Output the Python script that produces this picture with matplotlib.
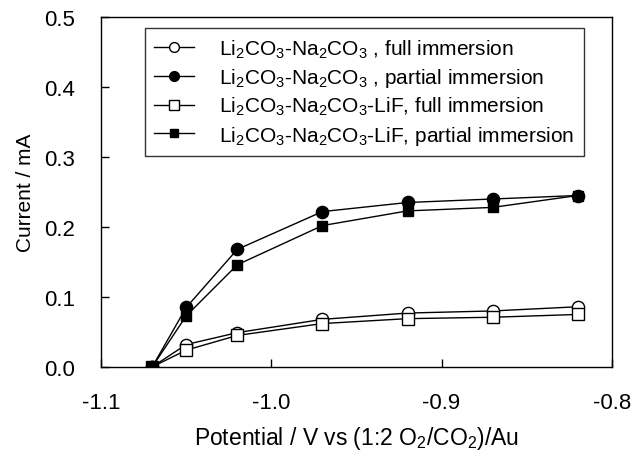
import matplotlib
matplotlib.use('Agg')
import matplotlib.pyplot as plt

plt.rcParams['font.family'] = ['Liberation Sans', 'DejaVu Sans']
plt.rcParams['mathtext.fontset'] = 'custom'
plt.rcParams['mathtext.rm'] = 'Liberation Sans'
plt.rcParams['mathtext.it'] = 'Liberation Sans'
plt.rcParams['mathtext.default'] = 'regular'

potential = [-1.07, -1.05, -1.02, -0.97, -0.92, -0.87, -0.82]
carb_full = [0.0, 0.032, 0.049, 0.068, 0.077, 0.080, 0.086]
carb_partial = [0.0, 0.085, 0.168, 0.222, 0.235, 0.240, 0.245]
lif_full = [0.0, 0.024, 0.045, 0.062, 0.069, 0.071, 0.075]
lif_partial = [0.0, 0.073, 0.146, 0.202, 0.223, 0.228, 0.245]

labels = [
    'Li$_2$CO$_3$-Na$_2$CO$_3$ , full immersion',
    'Li$_2$CO$_3$-Na$_2$CO$_3$ , partial immersion',
    'Li$_2$CO$_3$-Na$_2$CO$_3$-LiF, full immersion',
    'Li$_2$CO$_3$-Na$_2$CO$_3$-LiF, partial immersion',
]
xticks = [-1.1, -1.0, -0.9, -0.8]
yticks = [0.0, 0.1, 0.2, 0.3, 0.4, 0.5]

fig = plt.figure(figsize=(6.32, 4.52), dpi=100)
ax = fig.add_axes([0.160, 0.186, 0.808, 0.774])

styles = [
    (carb_full, 'o', 'white', 8.8),
    (carb_partial, 'o', 'black', 8.8),
    (lif_full, 's', 'white', 8.2),
    (lif_partial, 's', 'black', 7.6),
]
for (vals, m, fc, ms), lab in zip(styles, labels):
    ax.plot(potential, vals, color='black', lw=1.0, marker=m, markersize=ms,
            markerfacecolor=fc, markeredgecolor='black', markeredgewidth=1.0, label=lab)

ax.set_xlim(-1.1, -0.8)
ax.set_ylim(0.0, 0.5)
ax.set_xticks(xticks)
ax.set_xticklabels(['%.1f' % v for v in xticks])
ax.set_yticks(yticks)
ax.set_yticklabels(['%.1f' % v for v in yticks])
ax.tick_params(direction='in', length=6, width=1, labelsize=16)
ax.tick_params(axis='x', pad=18)
ax.tick_params(axis='y', pad=19)
for s in ax.spines.values():
    s.set_linewidth(1.0)

ax.set_xlabel('Potential / V vs (1:2 O$_2$/CO$_2$)/Au', fontsize=16.5, labelpad=8)
ax.set_ylabel('Current / mA', fontsize=15, labelpad=6)

leg = ax.legend(loc='upper left', bbox_to_anchor=(0.086, 0.969), fontsize=15,
                frameon=True, fancybox=False, edgecolor='black', handlelength=1.9,
                handletextpad=1.2, borderpad=0.45, labelspacing=0.3, borderaxespad=0,
                markerscale=0.8)
leg.get_frame().set_linewidth(1.0)

fig.savefig('out.png', dpi=100)
